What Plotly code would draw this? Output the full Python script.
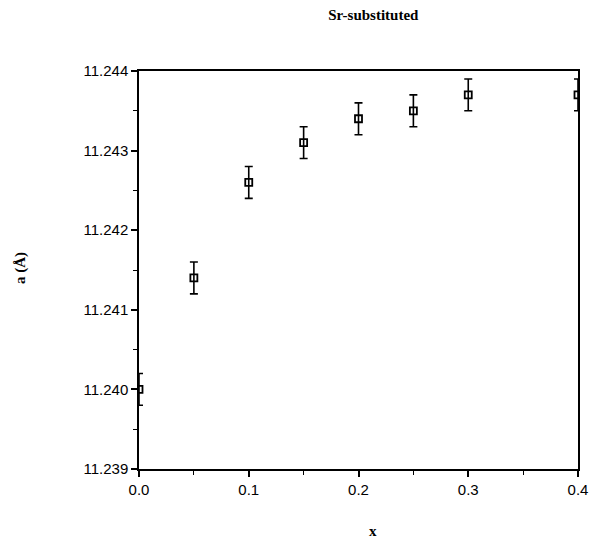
import plotly.graph_objects as go

x_vals = [0.0, 0.05, 0.10, 0.15, 0.20, 0.25, 0.30, 0.40]
a_vals = [11.2400, 11.2414, 11.2426, 11.2431, 11.2434, 11.2435, 11.2437, 11.2437]
a_err = [0.0002, 0.0002, 0.0002, 0.0002, 0.0002, 0.0002, 0.0002, 0.0002]
x_ticks = [0.0, 0.1, 0.2, 0.3, 0.4]
x_ticklabels = ["0.0", "0.1", "0.2", "0.3", "0.4"]
y_ticks = [11.239, 11.240, 11.241, 11.242, 11.243, 11.244]
y_ticklabels = ["11.239", "11.240", "11.241", "11.242", "11.243", "11.244"]

serif = "Liberation Serif, Times New Roman, serif"

fig = go.Figure()
fig.add_trace(go.Scatter(
    x=x_vals, y=a_vals, mode="markers",
    marker=dict(symbol="square-open", size=7, color="black", line=dict(width=1.8, color="black")),
    error_y=dict(type="data", array=a_err, visible=True, color="black", thickness=1.6, width=4),
    cliponaxis=True, showlegend=False,
))

axis_common = dict(
    showline=True, linecolor="black", linewidth=1.5, mirror=True,
    ticks="outside", tickcolor="black", ticklen=6, tickwidth=1.5,
    showgrid=False, zeroline=False, automargin=False,
    tickfont=dict(family="Liberation Sans, Arial, sans-serif", size=15, color="black"),
)

fig.update_xaxes(
    range=[0.0, 0.4], tickvals=x_ticks, ticktext=x_ticklabels,
    minor=dict(ticks="outside", dtick=0.05, ticklen=4, tickcolor="black", tickwidth=1.2),
    **axis_common,
)
fig.update_yaxes(
    range=[11.239, 11.244], tickvals=y_ticks, ticktext=y_ticklabels,
    minor=dict(ticks="outside", dtick=0.0005, ticklen=4, tickcolor="black", tickwidth=1.2),
    **axis_common,
)

fig.add_annotation(text="<b>x</b>", xref="paper", yref="paper", x=0.533, y=-0.156,
                   showarrow=False, xanchor="center", yanchor="middle",
                   font=dict(family=serif, size=15, color="black"))
fig.add_annotation(text="<b>a (Å)</b>", xref="paper", yref="paper", x=-0.271, y=0.505,
                   showarrow=False, xanchor="center", yanchor="middle", textangle=-90,
                   font=dict(family=serif, size=15, color="black"))

fig.update_layout(
    width=615, height=540,
    margin=dict(l=139, r=37, t=71, b=71),
    paper_bgcolor="white", plot_bgcolor="white",
    title=dict(text="<b>Sr-substituted</b>", x=0.607, xanchor="center", y=0.972, yanchor="middle",
               font=dict(family=serif, size=15, color="black")),
)

fig.write_html("out.html")
